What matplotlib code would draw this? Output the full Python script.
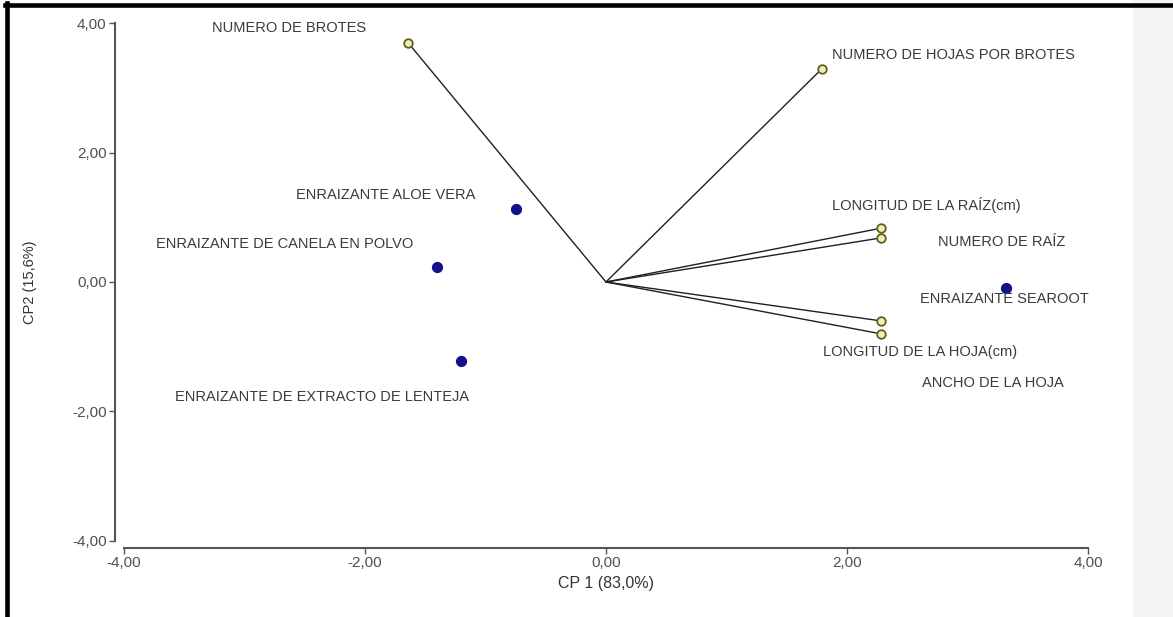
import matplotlib.pyplot as plt
from matplotlib.lines import Line2D
from matplotlib.patches import Rectangle
from matplotlib.ticker import FuncFormatter

plt.rcParams['font.family'] = ['Liberation Sans', 'DejaVu Sans']

# variables (vectors)
var_names = ['NUMERO DE BROTES', 'NUMERO DE HOJAS POR BROTES',
             'LONGITUD DE LA RAÍZ(cm)', 'NUMERO DE RAÍZ',
             'ANCHO DE LA HOJA', 'LONGITUD DE LA HOJA(cm)']
var_x = [-1.64, 1.79, 2.28, 2.28, 2.28, 2.28]
var_y = [3.69, 3.29, 0.83, 0.68, -0.60, -0.80]

# treatments (points)
trt_names = ['ENRAIZANTE ALOE VERA', 'ENRAIZANTE DE CANELA EN POLVO',
             'ENRAIZANTE DE EXTRACTO DE LENTEJA', 'ENRAIZANTE SEAROOT']
trt_x = [-0.75, -1.40, -1.20, 3.32]
trt_y = [1.13, 0.23, -1.22, -0.09]

# label centres in data coords
var_lab = [(-2.63, 3.92), (2.88, 3.51), (2.66, 1.19), (3.28, 0.62),
           (3.21, -1.56), (2.61, -1.08)]
trt_lab = [(-1.83, 1.34), (-2.67, 0.59), (-2.36, -1.78), (3.31, -0.26)]

fig = plt.figure(figsize=(11.73, 6.17), dpi=100)
ax = fig.add_axes([0.1057, 0.1232, 0.8218, 0.8395])

txt_col = '#3a3a3a'
for i in range(len(var_names)):
    ax.plot([0, var_x[i]], [0, var_y[i]], color='#202020', lw=1.0, zorder=2)
ax.scatter(var_x, var_y, s=38, facecolor='#eef0b8', edgecolor='#5f6020',
           linewidth=1.3, zorder=3)
ax.scatter(trt_x, trt_y, s=50, color='#11118a', zorder=3)

for name, (lx, ly) in zip(var_names, var_lab):
    ax.text(lx, ly, name, ha='center', va='center', fontsize=10.5, color=txt_col)
for name, (lx, ly) in zip(trt_names, trt_lab):
    ax.text(lx, ly, name, ha='center', va='center', fontsize=10.5, color=txt_col)

ax.set_xlim(-4, 4)
ax.set_ylim(-4, 4)
ax.set_xticks([-4, -2, 0, 2, 4])
ax.set_yticks([-4, -2, 0, 2, 4])
fmt = FuncFormatter(lambda v, p: ('%.2f' % v).replace('.', ','))
ax.xaxis.set_major_formatter(fmt)
ax.yaxis.set_major_formatter(fmt)

for s in ['top', 'right']:
    ax.spines[s].set_visible(False)
ax.spines['left'].set_position(('outward', 6.5))
ax.spines['bottom'].set_position(('outward', 5))
for s in ['left', 'bottom']:
    ax.spines[s].set_color('#555555')
    ax.spines[s].set_linewidth(1.5)
ax.tick_params(colors='#555555', labelcolor='#505050', labelsize=11,
               length=4, width=1.0, pad=2)

ax.set_xlabel('CP 1 (83,0%)', fontsize=11.5, color='#333333', labelpad=4)
ax.set_ylabel('CP2 (15,6%)', fontsize=10.5, color='#333333')
ax.yaxis.set_label_coords(-0.09, 0.50)

# picture frame
fig.add_artist(Rectangle((1133 / 1173, 0), 40 / 1173, 1, transform=fig.transFigure,
                         color='#f5f5f5', zorder=0))
fig.add_artist(Line2D([5 / 1173, 1], [1 - 5 / 617, 1 - 5 / 617],
                      transform=fig.transFigure, color='black', lw=3.3))
fig.add_artist(Line2D([7 / 1173, 7 / 1173], [0, 1 - 3 / 617],
                      transform=fig.transFigure, color='black', lw=3.3))

plt.savefig('out.png', dpi=100)
